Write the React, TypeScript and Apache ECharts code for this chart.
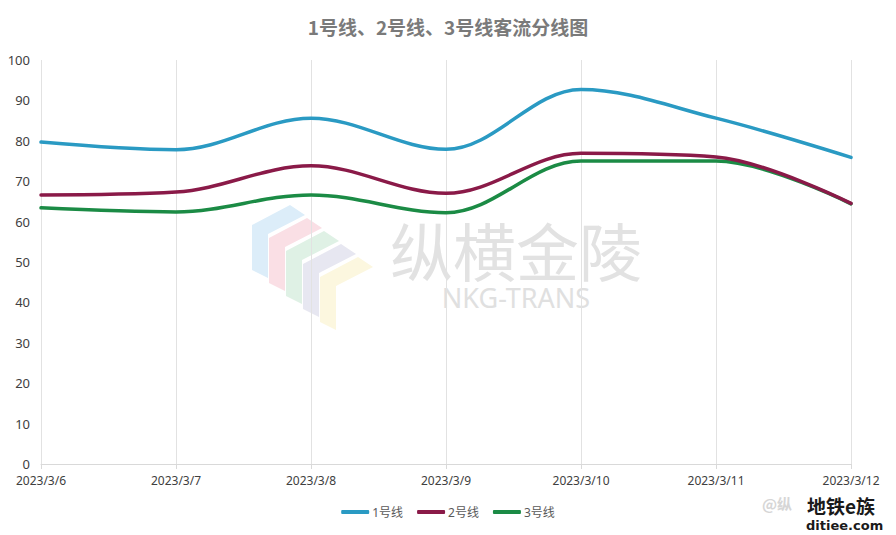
import React, { useEffect, useRef } from "react";
import * as echarts from "echarts";

const titleText = "1号线、2号线、3号线客流分线图";
const categories = ["2023/3/6", "2023/3/7", "2023/3/8", "2023/3/9", "2023/3/10", "2023/3/11", "2023/3/12"];
const seriesNames = ["1号线", "2号线", "3号线"];
const line1 = [79.7, 77.8, 85.6, 77.9, 92.7, 85.6, 75.9];
const line2 = [66.6, 67.3, 73.8, 67.0, 76.9, 76.0, 64.5];
const line3 = [63.4, 62.4, 66.6, 62.2, 75.0, 75.0, 64.4];
const colors = ["#2A9AC3", "#8A1A48", "#1B8B45"];

const chevronColors = ["#dcedf9", "#fadfe5", "#dff1e5", "#e7e7f1", "#fcf7df"];

export default function App() {
  const ref = useRef<HTMLDivElement>(null);
  useEffect(() => {
    if (!ref.current) return;
    const chart = echarts.init(ref.current, null, { renderer: "svg" });
    const font = "'Noto Sans', 'Noto Sans CJK SC', sans-serif";
    const chevrons = chevronColors.map((c, i) => {
      const dx = i * 17;
      const dy = i * 13;
      return {
        type: "polygon",
        silent: true,
        z: -10,
        shape: {
          points: [
            [252 + dx, 225 + dy],
            [290 + dx, 205 + dy],
            [305 + dx, 215 + dy],
            [268 + dx, 234 + dy],
            [268 + dx, 278 + dy],
            [252 + dx, 270 + dy],
          ],
        },
        style: { fill: c },
      };
    });
    chart.setOption({
      animation: false,
      backgroundColor: "#ffffff",
      color: colors,
      title: {
        text: titleText,
        left: "center",
        top: 12,
        textStyle: {
          fontFamily: "'Noto Sans CJK SC', sans-serif",
          fontWeight: "bold",
          fontSize: 19,
          color: "#7a7a7a",
        },
      },
      graphic: [
        ...chevrons,
        {
          type: "text",
          silent: true,
          z: -10,
          x: 516,
          y: 214,
          style: {
            text: "{a|纵横金陵}\n{b|NKG-TRANS}",
            align: "center",
            verticalAlign: "top",
            rich: {
              a: {
                fontFamily: "'Noto Sans CJK SC', sans-serif",
                fontSize: 63,
                lineHeight: 68,
                fill: "#e2e2e2",
                color: "#e2e2e2",
              },
              b: {
                fontFamily: "'Noto Sans', sans-serif",
                fontSize: 27,
                lineHeight: 30,
                fill: "#e0e0e0",
                color: "#e0e0e0",
              },
            },
          },
        },
        {
          type: "text",
          silent: true,
          z: 100,
          left: 762,
          top: 496,
          style: {
            text: "@纵",
            font: "bold 15px 'Noto Sans CJK SC', sans-serif",
            fill: "#d6d6d6",
          },
        },
        {
          type: "text",
          silent: true,
          z: 100,
          left: 806,
          top: 495,
          style: {
            text: "地铁e族",
            font: "bold 19px 'Noto Sans CJK SC', sans-serif",
            fill: "#1a1a1a",
            stroke: "#ffffff",
            lineWidth: 2,
          },
        },
        {
          type: "text",
          silent: true,
          z: 100,
          left: 805,
          top: 518,
          style: {
            text: "ditiee.com",
            font: "bold 13px 'DejaVu Sans', sans-serif",
            fill: "#1a1a1a",
            stroke: "#ffffff",
            lineWidth: 2,
          },
        },
      ],
      legend: {
        data: seriesNames,
        bottom: 12,
        left: "center",
        icon: "roundRect",
        itemWidth: 28,
        itemHeight: 4,
        itemGap: 14,
        textStyle: { fontFamily: font, fontSize: 12, color: "#595959", padding: [0, 0, 0, -2] },
      },
      grid: { left: 41, right: 45, top: 60, bottom: 71, containLabel: false },
      xAxis: {
        type: "category",
        data: categories,
        boundaryGap: false,
        axisLine: { show: true, lineStyle: { color: "#d9d9d9" } },
        axisTick: { show: true, length: 5, lineStyle: { color: "#d9d9d9" } },
        splitLine: { show: true, lineStyle: { color: "#e2e2e2", width: 1 } },
        axisLabel: { color: "#404040", fontSize: 12, fontFamily: font, margin: 10 },
      },
      yAxis: {
        type: "value",
        min: 0,
        max: 100,
        interval: 10,
        axisLine: { show: false },
        axisTick: { show: false },
        splitLine: { show: false },
        axisLabel: { color: "#404040", fontSize: 13, fontFamily: font, margin: 11 },
      },
      series: [line1, line2, line3].map((d, i) => ({
        name: seriesNames[i],
        type: "line",
        data: d,
        smooth: 0.35,
        symbol: "none",
        lineStyle: { width: 3.5, color: colors[i], cap: "round" },
        itemStyle: { color: colors[i] },
        z: 10 - i,
      })),
    });
    return () => chart.dispose();
  }, []);
  return <div ref={ref} style={{ width: 896, height: 535, position: "absolute", left: 0, top: 0 }} />;
}
